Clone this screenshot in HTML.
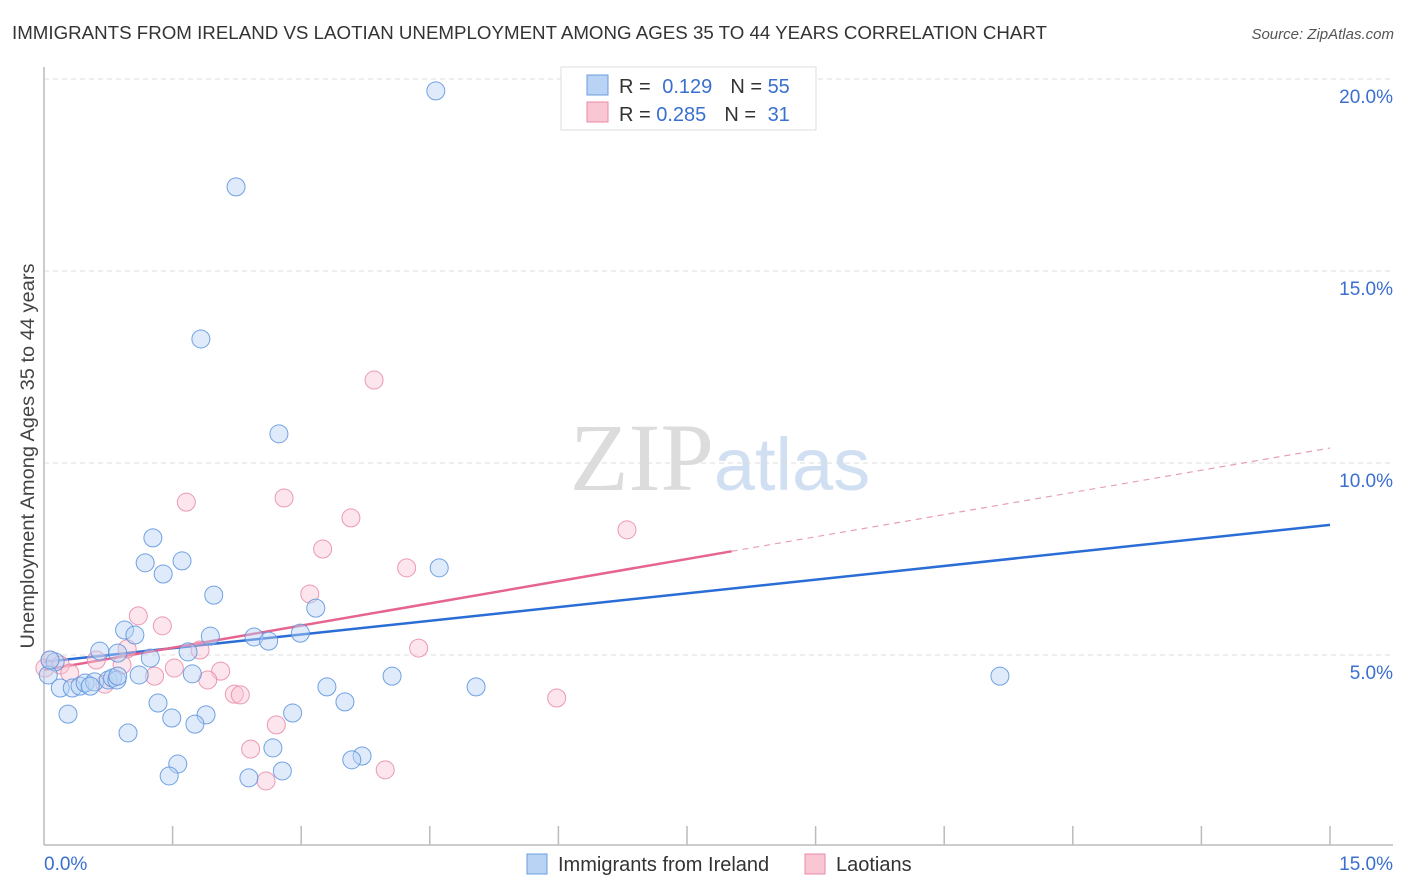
<!DOCTYPE html>
<html><head><meta charset="utf-8"><style>
body{margin:0;background:#fff;font-family:"Liberation Sans",sans-serif;}
svg{display:block}
</style></head><body>
<svg id="chart" width="1406" height="892" xmlns="http://www.w3.org/2000/svg">
<text x="12" y="39" font-size="18" fill="#333" textLength="1035" lengthAdjust="spacingAndGlyphs">IMMIGRANTS FROM IRELAND VS LAOTIAN UNEMPLOYMENT AMONG AGES 35 TO 44 YEARS CORRELATION CHART</text>
<text x="1394" y="39" font-size="15" fill="#555" font-style="italic" text-anchor="end">Source: ZipAtlas.com</text>
<text x="720" y="490" font-size="96" text-anchor="middle" font-family="Liberation Serif,serif"><tspan fill="#dcdcdc">ZIP</tspan><tspan fill="#d0dff2" font-family="Liberation Sans,sans-serif" font-size="74">atlas</tspan></text>
<g id="grid"></g>
<g id="axes"></g>
<g id="lines"></g>
<g id="points"></g>
<text transform="translate(34,456) rotate(-90)" font-size="19" fill="#444" text-anchor="middle" textLength="385" lengthAdjust="spacingAndGlyphs">Unemployment Among Ages 35 to 44 years</text>
<g>
<rect x="561" y="67" width="255" height="63" fill="#fff" stroke="#ddd"/>
<rect x="587" y="75" width="21" height="20" fill="#b9d3f5" stroke="#6a9ee0"/>
<rect x="587" y="102" width="21" height="20" fill="#f9c6d4" stroke="#e88aa6"/>
<text x="619" y="93" font-size="20" fill="#333">R = <tspan fill="#3a6fd0" dx="6">0.129</tspan><tspan dx="18" fill="#333">N = </tspan><tspan fill="#3a6fd0">55</tspan></text>
<text x="619" y="121" font-size="20" fill="#333">R = <tspan fill="#3a6fd0">0.285</tspan><tspan dx="18" fill="#333">N = </tspan><tspan fill="#3a6fd0" dx="6">31</tspan></text>
</g>
<g>
<rect x="527" y="854" width="20" height="20" fill="#b9d3f5" stroke="#6a9ee0"/>
<text x="558" y="871" font-size="20" fill="#333">Immigrants from Ireland</text>
<rect x="805" y="854" width="20" height="20" fill="#f9c6d4" stroke="#e88aa6"/>
<text x="836" y="871" font-size="20" fill="#333">Laotians</text>
</g>
</svg>
<script>
const blueX=[4.57,2.24,1.83,2.74,1.27,1.18,1.61,1.39,1.98,4.61,3.17,0.94,1.06,1.94,2.45,2.62,2.99,0.65,0.86,1.24,1.68,0.13,0.05,0.19,0.33,0.42,0.48,0.59,0.75,0.80,0.85,1.11,1.73,4.06,5.04,11.15,3.30,1.33,3.51,0.28,1.49,1.89,1.76,2.90,0.98,2.67,1.56,3.71,3.59,1.46,2.39,2.78,0.86,0.54,0.07];
const blueY=[19.69,17.19,13.23,10.76,8.05,7.40,7.45,7.11,6.56,7.27,6.22,5.65,5.52,5.49,5.47,5.36,5.57,5.10,5.05,4.92,5.08,4.82,4.48,4.14,4.14,4.19,4.27,4.30,4.35,4.40,4.35,4.48,4.51,4.45,4.17,4.45,4.17,3.75,3.78,3.46,3.36,3.44,3.20,3.49,2.97,2.58,2.16,2.37,2.27,1.85,1.80,1.98,4.45,4.19,4.87];
const pinkX=[3.85,1.66,2.80,3.58,3.25,4.23,6.80,3.10,1.10,1.38,0.97,1.82,0.61,4.37,1.52,2.06,1.29,1.91,0.91,0.71,2.22,2.29,2.71,2.41,3.98,2.59,5.98,0.07,0.19,0.01,0.30];
const pinkY=[12.16,8.98,9.09,8.57,7.76,7.27,8.26,6.59,6.02,5.76,5.16,5.13,4.87,5.18,4.66,4.58,4.45,4.35,4.74,4.24,3.98,3.96,3.18,2.55,2.01,1.72,3.88,4.87,4.74,4.66,4.53];
const blueTrend=[4.82,8.39];
const pinkTrend=[4.61,10.39];
const pinkSolidEnd=8.02;
const yTicks=[5,10,15,20];
const xTickLabels=["0.0%","15.0%"];
const NS="http://www.w3.org/2000/svg";
const X0=44,X1=1330,YB=847,PX=38.4;
const sx=v=>X0+(v/15)*(X1-X0);
const sy=v=>YB-v*PX;
function mk(tag,attrs,parent){const e=document.createElementNS(NS,tag);for(const k in attrs)e.setAttribute(k,attrs[k]);document.getElementById(parent).appendChild(e);return e;}
yTicks.forEach(t=>{
 const l=mk('line',{x1:X0,x2:1393,y1:sy(t),y2:sy(t),stroke:'#ddd','stroke-dasharray':'5,4'},'grid');
 
 
 const tx=mk('text',{x:1393,y:sy(t)+24,'font-size':19,fill:'#3a6fd0','text-anchor':'end'},'grid');
 tx.textContent=t.toFixed(1)+'%';
 
 
});
const ax=mk('line',{x1:X0,x2:1393,y1:845,y2:845,stroke:'#bbb','stroke-width':1.5},'axes');


const ay=mk('line',{x1:X0,x2:X0,y1:67,y2:845,stroke:'#bbb','stroke-width':1.5},'axes');


for(let i=1;i<=10;i++){const v=i*1.5;const t=mk('line',{x1:sx(v),x2:sx(v),y1:826,y2:845,stroke:'#bbb','stroke-width':1.5},'axes');
 
 }
[[0,'start',xTickLabels[0]],[15,'end',xTickLabels[1]]].forEach(([v,a,s])=>{const t=mk('text',{x:v===0?sx(v):1393,y:870,'font-size':19,fill:'#3a6fd0','text-anchor':a},'axes');t.textContent=s;
 
 });
function pts(xs,ys,fill,stroke,name){xs.forEach((x,i)=>{const c=mk('circle',{cx:sx(x),cy:sy(ys[i]),r:9,fill:fill,'fill-opacity':0.45,stroke:stroke,'stroke-width':1,'stroke-opacity':0.85},'points');
 
 });}
pts(pinkX,pinkY,'#f9c6d4','#e88aa6','point-laotians');
pts(blueX,blueY,'#b9d3f5','#5b93de','point-ireland');
const bl=mk('line',{x1:sx(0),y1:sy(blueTrend[0]),x2:sx(15),y2:sy(blueTrend[1]),stroke:'#2a6dd6','stroke-width':2.5},'lines');


const pe=pinkTrend[0]+(pinkTrend[1]-pinkTrend[0])*pinkSolidEnd/15;
const pl=mk('line',{x1:sx(0),y1:sy(pinkTrend[0]),x2:sx(pinkSolidEnd),y2:sy(pe),stroke:'#e6648e','stroke-width':2.5},'lines');


const pd=mk('line',{x1:sx(pinkSolidEnd),y1:sy(pe),x2:sx(15),y2:sy(pinkTrend[1]),stroke:'#e6a0b6','stroke-width':1.2,'stroke-dasharray':'6,5'},'lines');


</script>
</body></html>
